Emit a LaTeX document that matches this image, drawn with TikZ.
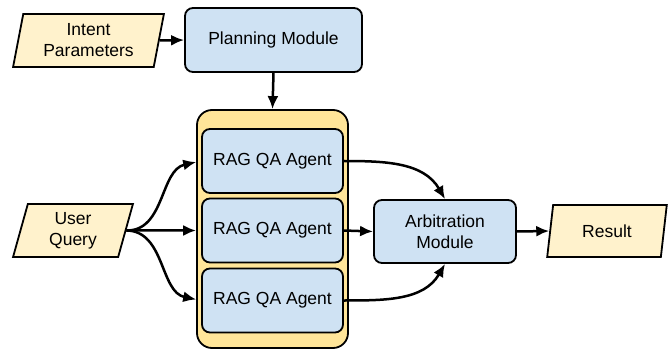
\documentclass[tikz,border=0pt]{standalone}
\usepackage{fontspec}
\setmainfont{Liberation Sans}
\usetikzlibrary{shapes.geometric,arrows.meta}
\definecolor{boxblue}{HTML}{CFE2F3}
\definecolor{ioyellow}{HTML}{FFF2CC}
\definecolor{contyellow}{HTML}{FFE599}
\tikzset{
  every node/.style={font=\fontsize{17.5}{21}\selectfont, align=center},
  module/.style={draw, line width=1.8pt, fill=boxblue, rounded corners=8pt, inner sep=0pt},
  iobox/.style={draw, line width=1.8pt, fill=ioyellow, trapezium, trapezium left angle=78, trapezium right angle=102, trapezium stretches=true, inner sep=0pt},
  container/.style={draw, line width=1.8pt, fill=contyellow, rounded corners=15pt, inner sep=0pt},
  conn/.style={line width=2.5pt, -{Latex[length=13pt,width=11pt]}},
}
\begin{document}
\begin{tikzpicture}[x=1pt,y=-1pt]
\useasboundingbox (0,0) rectangle (670,350);
\node[iobox, minimum width=151pt, minimum height=53pt] (ip) at (88.5,40.5) {Intent\\Parameters};
\node[module, minimum width=177pt, minimum height=64pt] (pm) at (273.5,40) {Planning Module};
\node[container, minimum width=151pt, minimum height=238pt] (cont) at (272.5,229) {};
\node[module, minimum width=141pt, minimum height=64pt] (ag1) at (272.5,161) {RAG QA Agent};
\node[module, minimum width=141pt, minimum height=64pt] (ag2) at (272.5,230.5) {RAG QA Agent};
\node[module, minimum width=141pt, minimum height=64pt] (ag3) at (272.5,300.5) {RAG QA Agent};
\node[iobox, minimum width=120pt, minimum height=53pt] (uq) at (73,230.5) {User\\Query};
\node[module, minimum width=142pt, minimum height=63pt] (arb) at (445,231.5) {Arbitration\\Module};
\node[iobox, minimum width=120pt, minimum height=52pt] (res) at (607,231) {Result};
\draw[conn] (ip.east) -- (pm.west);
\draw[conn] (pm.south) -- (cont.north);
\draw[conn, shorten >=5pt] (uq.east) .. controls (165,231) and (160,170) .. (ag1.west);
\draw[conn, shorten >=5pt] (uq.east) -- (ag2.west);
\draw[conn, shorten >=5pt] (uq.east) .. controls (165,231) and (160,292) .. (ag3.west);
\draw[conn] (ag1.east) to[out=0,in=120] (arb.north);
\draw[conn] (ag2.east) -- (arb.west);
\draw[conn] (ag3.east) to[out=0,in=240] (arb.south);
\draw[conn] (arb.east) -- (res.west);
\end{tikzpicture}
\end{document}
